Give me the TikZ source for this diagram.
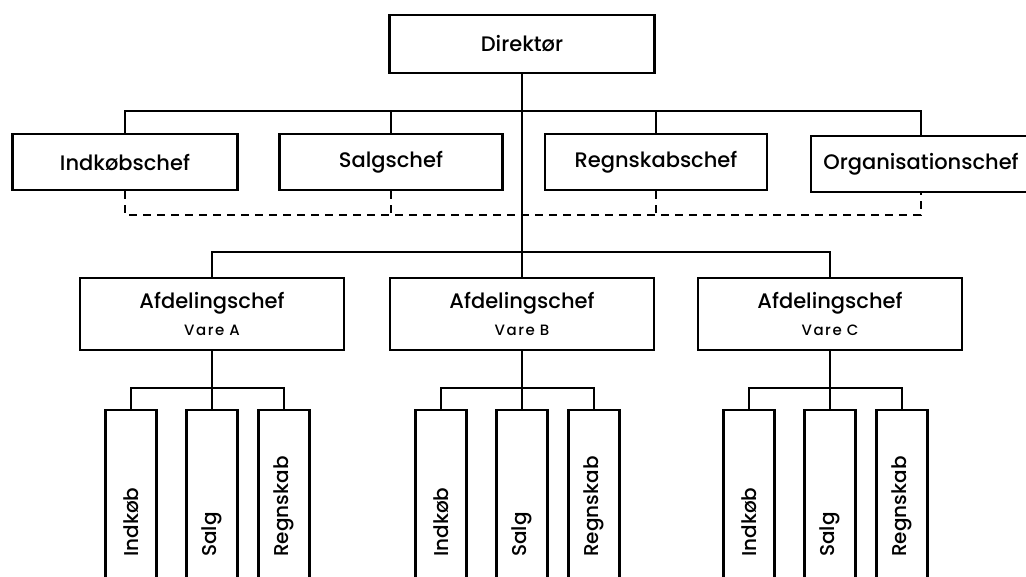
\documentclass[tikz,border=0pt]{standalone}
\usepackage{fontspec}
\setmainfont{Poppins}[UprightFont=* Medium]
\usepackage{tikz}
\usetikzlibrary{positioning, calc}

\begin{document}
\begin{tikzpicture}[
    x=1pt, y=-1pt,
    chefbox/.style={draw=black, line width=2.4pt, rectangle, minimum width=223pt, minimum height=56pt, inner sep=0pt, font=\fontsize{21}{24}\selectfont, fill=white},
    afdbox/.style={draw=black, line width=2.4pt, rectangle, minimum width=264pt, minimum height=72pt, inner sep=0pt, align=center, font=\fontsize{21}{26}\selectfont, fill=white},
    colbox/.style={draw=black, line width=2.4pt, rectangle, minimum width=51pt, minimum height=220pt, anchor=north, inner sep=0pt, fill=white},
    collabel/.style={rotate=90, anchor=west, inner sep=0pt, font=\fontsize{20}{22}\selectfont},
    edge/.style={line width=1.7pt},
    dashedge/.style={line width=1.7pt, dash pattern=on 8pt off 6pt}
]
\clip (0,0) rectangle (1026,576);
\fill[white] (0,0) rectangle (1026,576);

% --- KNOTEN ---
% Direktor als Anker
\node[chefbox, minimum width=265pt, minimum height=58pt] (dir) at (522,44) {Direktør};

% Stabschefs
\node[chefbox, minimum width=225pt] (ind) at (125,162) {Indkøbschef};
\node[chefbox] (salg) at (391,162) {Salgschef};
\node[chefbox, minimum width=222pt] (regn) at (656,162) {Regnskabschef};
\node[chefbox, minimum width=220pt] (org) at (921,164) {Organisationschef};

% Hilfslinien fuer die Querbalken
\coordinate (topbar) at (0,111);
\coordinate (dashbar) at (0,215);
\coordinate (afdbar) at (0,252);

% Afdelingschefs mit je drei Abteilungen
\foreach \v/\cx in {A/212, B/522, C/830} {
    \node[afdbox] (afd\v) at (\cx,314) {Afdelingschef\\[1pt]{\fontsize{15}{17}\selectfont\addfontfeature{LetterSpace=10}Vare\,\,\v}};
    \coordinate (sub\v) at (\cx,388);
    \node[colbox] (ik\v) at (\cx-81,409) {};
    \node[colbox] (sg\v) at (\cx,409) {};
    \node[colbox] (rg\v) at (\cx+72,409) {};
    \node[collabel] (ikl\v) at ([yshift=-148pt]ik\v.north) {Indkøb};
    \node[collabel] (sgl\v) at ([yshift=-148pt]sg\v.north) {Salg};
    \node[collabel] (rgl\v) at ([yshift=-148pt]rg\v.north) {Regnskab};
}

% --- KANTEN ---

% 1. Hauptlinie vom Direktor
\draw[edge] (dir.south) -- (afdB.north);

% 2. Stabschefs
\draw[edge] (ind.north) |- (org.north |- topbar) -- (org.north);
\draw[edge] (salg.north) -- (salg.north |- topbar);
\draw[edge] (regn.north) -- (regn.north |- topbar);

% 3. Gestrichelte Verbindung unter den Stabschefs
\draw[dashedge] (ind.south) |- (org.south |- dashbar) -- (org.south);
\draw[dashedge] (salg.south) -- (salg.south |- dashbar);
\draw[dashedge] (regn.south) -- (regn.south |- dashbar);

% 4. Afdelingschefs
\draw[edge] (afdA.north) |- (afdC.north |- afdbar) -- (afdC.north);

% 5. Abteilungen
\foreach \v in {A, B, C} {
    \draw[edge] (afd\v.south) -- (sg\v.north);
    \draw[edge] (ik\v.north) |- (rg\v.north |- sub\v) -- (rg\v.north);
}

\end{tikzpicture}
\end{document}
